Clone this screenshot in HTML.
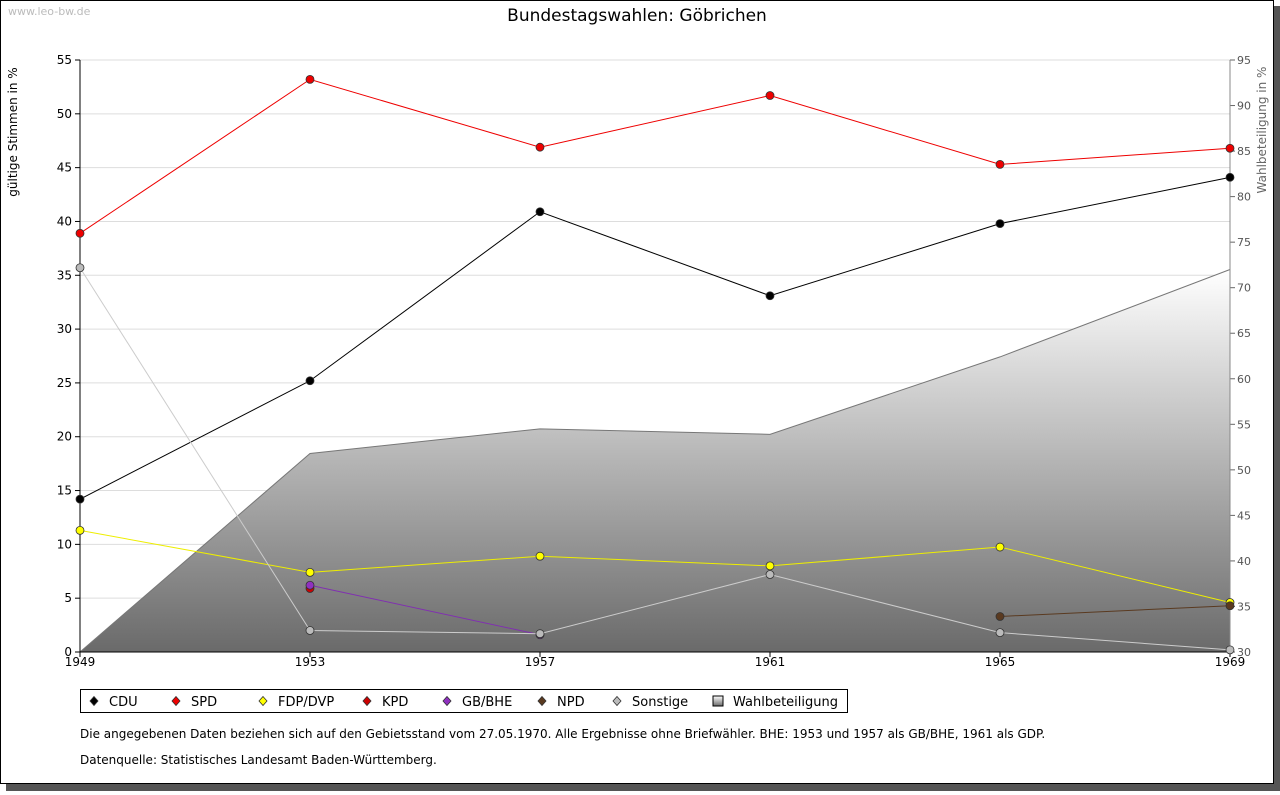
<!DOCTYPE html>
<html><head><meta charset="utf-8"><style>
body{margin:0;width:1280px;height:791px;background:#fff;overflow:hidden;font-family:"DejaVu Sans","Liberation Sans",sans-serif}
svg text{font-family:"DejaVu Sans","Liberation Sans",sans-serif}
</style></head><body>
<svg id="c" width="1280" height="791" xmlns="http://www.w3.org/2000/svg">
<defs><linearGradient id="g" x1="0" y1="0" x2="0" y2="1"><stop offset="0" stop-color="#ffffff"/><stop offset="1" stop-color="#6a6a6a"/></linearGradient></defs>
<rect x="6" y="6" width="1274" height="785" fill="#555"/>
<rect x="0.5" y="0.5" width="1273" height="783" fill="#fff" stroke="#000"/>
<text x="8" y="15" font-size="11" fill="#bbb">www.leo-bw.de</text>
<text x="637" y="21" font-size="17" text-anchor="middle">Bundestagswahlen: Göbrichen</text>
<text transform="translate(17,132) rotate(-90)" font-size="12" text-anchor="middle">gültige Stimmen in %</text>
<text transform="translate(1266,130) rotate(-90)" font-size="12" fill="#666" text-anchor="middle">Wahlbeteiligung in %</text>
<g id="plot"></g>
<g>
<rect x="80.5" y="689.5" width="767" height="23" fill="#fff" stroke="#000"/>
<g id="leg"></g>
</g>
<text x="80" y="738" font-size="12">Die angegebenen Daten beziehen sich auf den Gebietsstand vom 27.05.1970. Alle Ergebnisse ohne Briefwähler. BHE: 1953 und 1957 als GB/BHE, 1961 als GDP.</text>
<text x="80" y="764" font-size="12">Datenquelle: Statistisches Landesamt Baden-Württemberg.</text>
</svg>
<script>
const years=[1949,1953,1957,1961,1965,1969];
const leftTicks=[0,5,10,15,20,25,30,35,40,45,50,55];
const rightTicks=[30,35,40,45,50,55,60,65,70,75,80,85,90,95];
const turnout=[30,51.8,54.5,53.9,62.4,72.0];
const cdu=[14.2,25.2,40.9,33.1,39.8,44.1];
const spd=[38.9,53.2,46.9,51.7,45.3,46.8];
const fdp=[11.3,7.4,8.9,8.0,9.75,4.6];
const kpd=[null,5.9,null,null,null,null];
const gbbhe=[null,6.2,1.6,null,null,null];
const npd=[null,null,null,null,3.3,4.3];
const sonstige=[35.7,2.0,1.7,7.2,1.8,0.2];
const series=[["CDU",cdu,"#000","#000"],["SPD",spd,"#e00","#e00"],["FDP/DVP",fdp,"#ee0","#ff0"],["KPD",kpd,"#c00","#c00"],["GB/BHE",gbbhe,"#8030b0","#9030c0"],["NPD",npd,"#5a3a20","#5a3a20"],["Sonstige",sonstige,"#ccc","#bbb"]];
const X0=80,X1=1230,YT=60,YB=652;
const x=y=>X0+(y-1949)/(1969-1949)*(X1-X0);
const yl=v=>YB-v/55*(YB-YT);
const yr=v=>YB-(v-30)/65*(YB-YT);
const NS="http://www.w3.org/2000/svg";
const P=document.getElementById('plot');
function mk(t,a,p){const e=document.createElementNS(NS,t);for(const k in a)e.setAttribute(k,a[k]);(p||P).appendChild(e);return e;}
leftTicks.forEach(v=>{if(v>0){const l=mk('line',{x1:X0,x2:X1,y1:yl(v),y2:yl(v),stroke:'#ddd'});}
 mk('line',{x1:X0-5,x2:X0,y1:yl(v),y2:yl(v),stroke:'#000'});
 const t=mk('text',{x:X0-8,y:yl(v)+4,'font-size':12,'text-anchor':'end'});t.textContent=v;
 });
rightTicks.forEach(v=>{mk('line',{x1:X1,x2:X1+5,y1:yr(v),y2:yr(v),stroke:'#666'});
 const t=mk('text',{x:X1+7,y:yr(v)+4,'font-size':11,fill:'#555'});t.textContent=v;
 });
let d='M'+x(years[0])+','+YB;years.forEach((yy,i)=>d+=' L'+x(yy)+','+yr(turnout[i]));d+=' L'+X1+','+YB+'Z';
const area=mk('path',{d:d,fill:'url(#g)'});
mk('polyline',{points:years.map((yy,i)=>x(yy)+','+yr(turnout[i])).join(' '),fill:'none',stroke:'#777'});
mk('line',{x1:X0,x2:X0,y1:YT,y2:YB,stroke:'#000'});
mk('line',{x1:X1,x2:X1,y1:YT,y2:YB,stroke:'#888'});
mk('line',{x1:X0,x2:X1,y1:YB,y2:YB,stroke:'#000'});
years.forEach(yy=>{mk('line',{x1:x(yy),x2:x(yy),y1:YB,y2:YB+5,stroke:'#000'});
 const t=mk('text',{x:x(yy),y:YB+14,'font-size':12,'text-anchor':'middle'});t.textContent=yy;
 });
function dia(cx,cy,f,p){return mk('path',{d:`M${cx},${cy-4.5} L${cx+4},${cy} L${cx},${cy+4.5} L${cx-4},${cy}Z`,fill:f,stroke:'#333','stroke-width':0.8},p);}
series.forEach(([n,vals,lc,fc])=>{
 const pts=[];vals.forEach((v,i)=>{if(v!==null)pts.push(x(years[i])+','+yl(v));});
 const pl=mk('polyline',{points:pts.join(' '),fill:'none',stroke:lc});
 
 vals.forEach((v,i)=>{if(v===null)return;const m=mk('circle',{cx:x(years[i]),cy:yl(v),r:4,fill:fc,stroke:'#333','stroke-width':0.8});
  });
});
const L=document.getElementById('leg');
const legX=[94,176,263,367,447,542,617,718];
const legNames=series.map(s=>s[0]).concat(['Wahlbeteiligung']);
legNames.forEach((n,i)=>{const cx=legX[i];
 if(i<7)dia(cx,701,series[i][3],L);else{mk('rect',{x:cx-5,y:696,width:10,height:10,fill:'url(#g)',stroke:'#000'},L);}
 const t=mk('text',{x:cx+15,y:706,'font-size':13},L);t.textContent=n;
 });
</script>
</body></html>
